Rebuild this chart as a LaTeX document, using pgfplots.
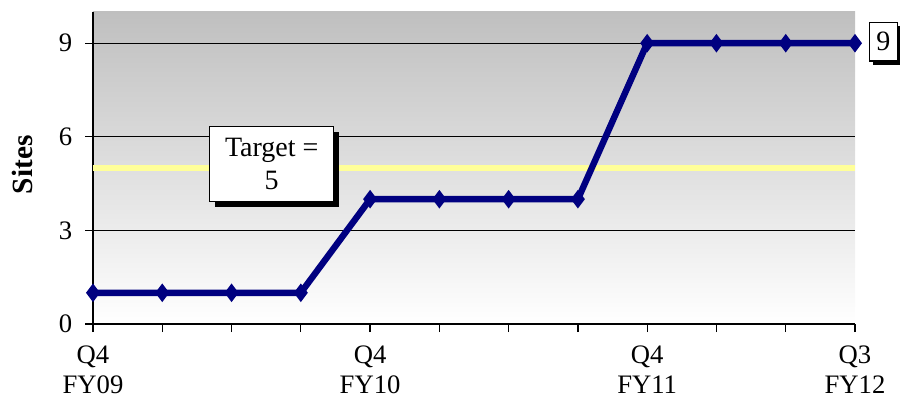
\documentclass[border=0pt]{standalone}
\usepackage{pgfplots}
\pgfplotsset{compat=1.18}
\usepackage{fontspec}
\setmainfont{Liberation Serif}
\usetikzlibrary{shadows}
\definecolor{navyline}{HTML}{000080}
\definecolor{targetyellow}{HTML}{FFFF99}
\begin{document}
\begin{tikzpicture}
\begin{axis}[
  name=ax,
  scale only axis,
  width=571.5pt, height=234pt,
  xmin=0, xmax=11, ymin=0, ymax=10,
  axis x line*=bottom, axis y line*=left,
  axis line style={black, line width=1.2pt},
  xtick={0,...,11},
  xticklabels={{Q4\\FY09},,,,{Q4\\FY10},,,,{Q4\\FY11},,,{Q3\\FY12}},
  ytick={0,3,6,9},
  ymajorgrids,
  grid style={black, line width=0.9pt},
  tick align=outside,
  major tick length=6pt,
  tick style={black, line width=1pt},
  tick label style={font=\fontsize{20}{22}\selectfont},
  xticklabel style={align=center, yshift=-7pt},
  yticklabel style={xshift=-6pt},
  ylabel={Sites},
  ylabel style={font=\fontsize{22}{24}\selectfont\bfseries,
    at={(axis description cs:-0.093,0.51)}, anchor=center},
  axis background/.style={top color=black!25, bottom color=white},
  clip=false,
  /pgf/number format/assume math mode=true,
]
% target line
\addplot[targetyellow, line width=5pt] coordinates {(0,5) (11,5)};
% sites per quarter
\addplot[navyline, line width=4.8pt, mark=diamond*, mark size=3pt,
  mark options={solid}] coordinates {
  (0,1) (1,1) (2,1) (3,1) (4,4) (5,4) (6,4) (7,4)
  (8,9) (9,9) (10,9) (11,9)
};
\node[draw=black, fill=white, line width=0.8pt, align=center,
  drop shadow={shadow xshift=4pt, shadow yshift=-4pt, fill=black, opacity=1},
  font=\fontsize{21}{25}\selectfont, minimum width=93pt, minimum height=56pt]
  at (axis cs:2.58,5.13) {Target =\\5};
\node[draw=black, fill=white, line width=0.8pt,
  drop shadow={shadow xshift=3pt, shadow yshift=-3pt, fill=black, opacity=1},
  font=\fontsize{21}{22}\selectfont, minimum width=21pt, minimum height=29pt,
  inner sep=1pt]
  at (axis cs:11.41,9.05) {9};
\end{axis}
\pgfresetboundingbox
\path ([shift={(-69.75pt,-57pt)}]ax.south west) rectangle ([shift={(33.75pt,9pt)}]ax.north east);
\end{tikzpicture}
\end{document}
